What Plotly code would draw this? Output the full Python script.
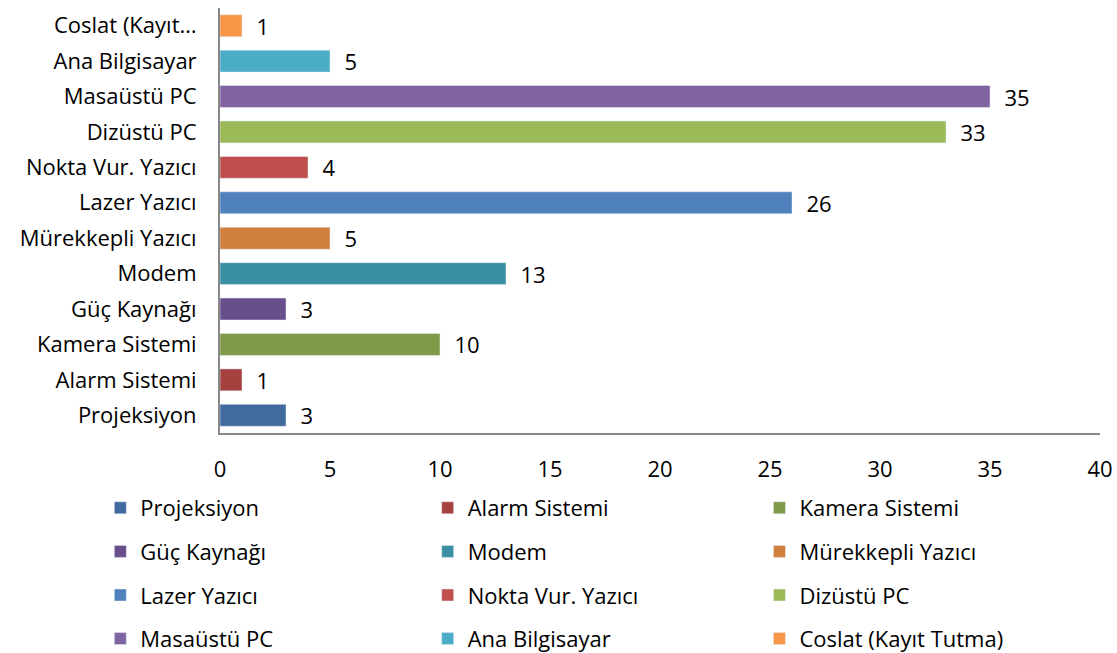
import plotly.graph_objects as go

categories = ["Projeksiyon", "Alarm Sistemi", "Kamera Sistemi", "Güç Kaynağı", "Modem",
              "Mürekkepli Yazıcı", "Lazer Yazıcı", "Nokta Vur. Yazıcı", "Dizüstü PC",
              "Masaüstü PC", "Ana Bilgisayar", "Coslat (Kayıt Tutma)"]
tick_labels = ["Projeksiyon", "Alarm Sistemi", "Kamera Sistemi", "Güç Kaynağı", "Modem",
               "Mürekkepli Yazıcı", "Lazer Yazıcı", "Nokta Vur. Yazıcı", "Dizüstü PC",
               "Masaüstü PC", "Ana Bilgisayar", "Coslat (Kayıt…"]
values = [3, 1, 10, 3, 13, 5, 26, 4, 33, 35, 5, 1]
colors = ["#416A9F", "#A5423F", "#7F9A48", "#684E8A", "#3A8FA3", "#D07F3C",
          "#4F81BD", "#C0504D", "#9BBB59", "#8064A2", "#4BACC6", "#F79646"]

FONT = "Open Sans"
FS = 22
fig = go.Figure()
legend_names = ["legend", "legend2", "legend3"]
for i, (c, v, col) in enumerate(zip(categories, values, colors)):
    fig.add_trace(go.Bar(
        y=[c], x=[v], name=c, orientation="h", marker_color=col, width=0.62,
        text=[f"  {v}"], textposition="outside", cliponaxis=False, constraintext="none",
        textfont=dict(size=FS, color="#000000", family=FONT),
        legend=legend_names[i % 3], legendgroup=c,
    ))

col_x = [-0.136, 0.236, 0.613]
legends = {}
for k, lx in enumerate(col_x):
    legends[legend_names[k]] = dict(
        orientation="v", x=lx, xanchor="left", y=(433 - 487) / 425, yanchor="top",
        traceorder="grouped", tracegroupgap=12,
        font=dict(size=FS, family=FONT, color="#000000"), bgcolor="rgba(0,0,0,0)",
    )

fig.update_layout(
    width=1117, height=653, barmode="overlay",
    margin=dict(l=220, r=17, t=8, b=220, autoexpand=False),
    paper_bgcolor="white", plot_bgcolor="white",
    font=dict(family=FONT, size=FS, color="#000000"),
    xaxis=dict(range=[0, 40], dtick=5, showgrid=False, zeroline=False,
               showline=True, linecolor="#888888", linewidth=2,
               ticks="outside", ticklen=16, tickcolor="rgba(0,0,0,0)",
               tickfont=dict(size=FS, family=FONT)),
    yaxis=dict(categoryorder="array", categoryarray=categories,
               tickmode="array", tickvals=categories, ticktext=tick_labels,
               showgrid=False, showline=True, linecolor="#888888", linewidth=2,
               ticks="outside", ticklen=17, tickcolor="rgba(0,0,0,0)",
               tickfont=dict(size=FS, family=FONT), range=[-0.5, 11.5]),
    **legends,
)
fig.write_html("out.html", config={"displayModeBar": False},
               post_script="document.body.style.margin='0';")
